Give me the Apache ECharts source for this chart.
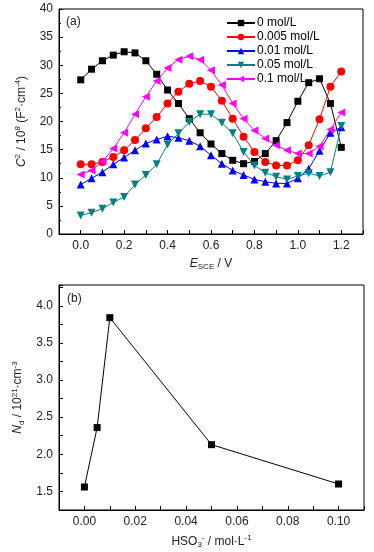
<!DOCTYPE html>
<html><head><meta charset="utf-8">
<script src="https://cdn.jsdelivr.net/npm/echarts@6/dist/echarts.min.js"></script>
<style>html,body{margin:0;padding:0;background:#fff}#c{width:374px;height:552px}</style>
</head><body><div id="c"></div>
<script>
// Panel (a): potential (V vs SCE)
const potential = [0.00,0.05,0.10,0.15,0.20,0.25,0.30,0.35,0.40,0.45,0.50,0.55,0.60,0.65,0.70,0.75,0.80,0.85,0.90,0.95,1.00,1.05,1.10,1.15,1.20];
const c0    = [27.4,29.3,30.8,31.8,32.4,32.2,30.8,28.4,25.6,23.2,20.5,18.0,16.0,14.3,13.1,12.5,12.9,14.3,16.6,19.8,23.6,26.9,27.6,23.2,15.4];
const c0005 = [12.4,12.4,12.8,13.7,14.9,16.7,18.8,20.8,23.2,25.3,26.7,27.2,26.2,23.7,20.5,17.3,14.6,12.8,12.2,12.2,13.1,15.8,20.4,26.2,28.9];
const c001  = [8.8,9.9,11.0,12.4,13.6,14.9,16.1,16.8,17.4,17.1,16.6,15.6,14.0,12.5,11.3,10.5,9.7,9.3,9.0,9.0,9.9,11.6,14.8,18.0,19.0];
const c005  = [3.3,3.8,4.5,5.6,6.6,8.8,10.5,12.4,15.9,17.9,19.9,21.3,21.3,19.8,17.9,14.6,12.2,10.9,10.2,9.7,10.3,10.8,10.3,11.0,19.2];
const c01   = [10.6,11.3,12.9,15.2,18.0,21.3,24.4,27.2,29.5,31.0,31.6,31.0,29.1,26.5,23.2,20.5,18.4,17.0,15.8,14.9,14.3,14.3,15.6,18.6,21.6];
const seriesNames = ['0 mol/L','0.005 mol/L','0.01 mol/L','0.05 mol/L','0.1 mol/L'];
// Panel (b)
const hso3 = [0, 0.005, 0.01, 0.05, 0.1];
const nd   = [1.56, 2.36, 3.84, 2.13, 1.60];
// tick labels
const xTicksA = [0.0,0.2,0.4,0.6,0.8,1.0,1.2];
const yTicksA = [0,5,10,15,20,25,30,35,40];
const xTicksB = [0.00,0.02,0.04,0.06,0.08,0.10];
const yTicksB = [1.5,2.0,2.5,3.0,3.5,4.0];

const FONT = '"Liberation Sans", Arial, sans-serif';
const rich = {
  it:{fontStyle:'italic',fontSize:12,fontFamily:FONT,color:'#222'},
  n:{fontSize:12,fontFamily:FONT,color:'#222'},
  sub:{fontSize:8,fontFamily:FONT,color:'#222',padding:[7,0,0,0]},
  sup:{fontSize:8,fontFamily:FONT,color:'#222',padding:[0,0,7,0]}
};
const pair = (xs, ys) => xs.map((x,i)=>[x, ys[i]]);
const colors = ['#000000','#ff0000','#0000ff','#008080','#ff00ff'];
const symbols = ['rect','circle','triangle','triangle','triangle'];
const rots = [0,0,0,180,90];
const sizes = [7,8,8,8,8];
const dataA = [c0,c0005,c001,c005,c01];

function axisCommon(){
  return {
    axisLine:{show:true,onZero:false,lineStyle:{color:'#000',width:1}},
    axisTick:{show:true,inside:true,length:4,lineStyle:{color:'#000'}},
    splitLine:{show:false},
    axisLabel:{fontSize:12,fontFamily:FONT,color:'#222',margin:6}
  };
}

const chart = echarts.init(document.getElementById('c'),null,{renderer:'canvas'});
const series = dataA.map((d,i)=>({
  name:seriesNames[i], type:'line', xAxisIndex:0, yAxisIndex:0,
  data:pair(potential,d), symbol:symbols[i], symbolSize:sizes[i], symbolRotate:rots[i],
  lineStyle:{color:colors[i],width:1}, itemStyle:{color:colors[i]}, showSymbol:true
}));
series.push({
  name:'Nd', type:'line', xAxisIndex:1, yAxisIndex:1, data:pair(hso3,nd),
  symbol:'rect', symbolSize:7, lineStyle:{color:'#000',width:1}, itemStyle:{color:'#000'}
});

const ax0 = axisCommon(), ay0 = axisCommon(), ax1 = axisCommon(), ay1 = axisCommon();
chart.setOption({
  animation:false,
  backgroundColor:'#fff',
  grid:[
    {left:59,right:11,top:9,height:225,show:true,borderColor:'#000',borderWidth:1,containLabel:false},
    {left:59,right:10,top:285,height:225,show:true,borderColor:'#000',borderWidth:1,containLabel:false}
  ],
  legend:{
    data:seriesNames, orient:'vertical', left:221, top:12, itemWidth:28, itemHeight:8, itemGap:2,
    textStyle:{fontSize:12,fontFamily:FONT,color:'#000',padding:[0,0,0,-3]}, selectedMode:false
  },
  graphic:[
    {type:'text',left:66,top:16,style:{text:'(a)',fontSize:12,fontFamily:FONT,fill:'#222'}},
    {type:'text',left:67,top:293,style:{text:'(b)',fontSize:12,fontFamily:FONT,fill:'#222'}}
  ],
  xAxis:[
    Object.assign(ax0,{gridIndex:0,type:'value',min:-0.1,max:1.3,interval:0.1,
      axisLabel:Object.assign(ax0.axisLabel,{customValues:xTicksA,formatter:v=>v.toFixed(1)}),
      name:'{it|E}{sub|SCE}{n| / V}',nameLocation:'middle',nameGap:22,nameTextStyle:{rich:rich}}),
    Object.assign(ax1,{gridIndex:1,type:'value',min:-0.01,max:0.11,interval:0.01,
      axisLabel:Object.assign(ax1.axisLabel,{customValues:xTicksB,formatter:v=>v.toFixed(2)}),
      name:'{n|HSO}{sub|3}{sup|-}{n| / mol·L}{sup|-1}',nameLocation:'middle',nameGap:24,nameTextStyle:{rich:rich}})
  ],
  yAxis:[
    Object.assign(ay0,{gridIndex:0,type:'value',min:0,max:40,interval:5,
      minorTick:{show:true,splitNumber:2,length:2,lineStyle:{color:'#000'}},
      axisLabel:Object.assign(ay0.axisLabel,{customValues:yTicksA,formatter:v=>String(v)}),
      name:'{it|C}{sup|2}{n| / 10}{sup|8}{n| (F}{sup|2}{n|·cm}{sup|-4}{n|)}',nameLocation:'middle',nameGap:30,nameRotate:90,nameTextStyle:{rich:rich}}),
    Object.assign(ay1,{gridIndex:1,type:'value',min:1.25,max:4.28,interval:0.25,
      axisLabel:Object.assign(ay1.axisLabel,{customValues:yTicksB,formatter:v=>v.toFixed(1)}),
      name:'{it|N}{sub|d}{n| / 10}{sup|21}{n|·cm}{sup|-3}',nameLocation:'middle',nameGap:30,nameRotate:90,nameTextStyle:{rich:rich}})
  ],
  series:series
});
</script></body></html>
